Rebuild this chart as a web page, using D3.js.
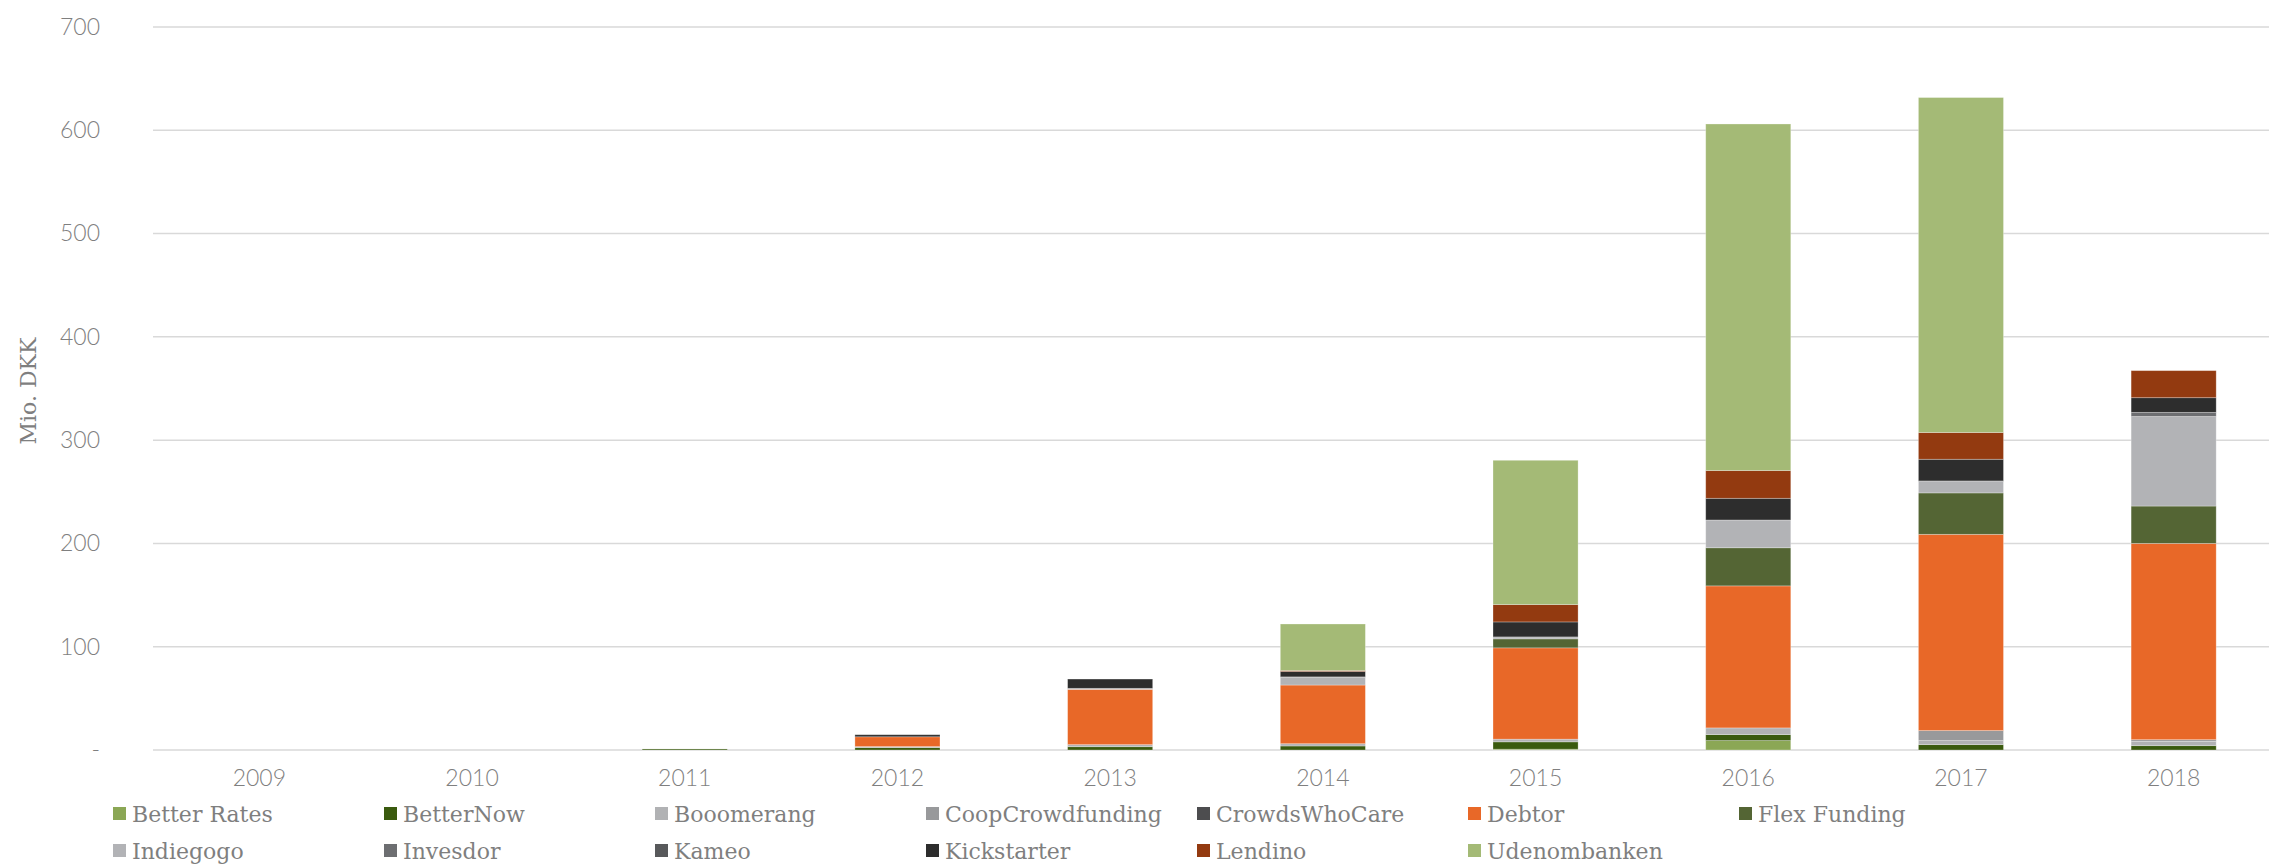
<!DOCTYPE html>
<html>
<head>
<meta charset="utf-8">
<script src="https://cdn.jsdelivr.net/npm/d3@7"></script>
<style>
  html, body { margin: 0; padding: 0; background: #fff; }
  svg { display: block; }
</style>
</head>
<body>
<svg id="chart" width="2269" height="864"></svg>
<script>
const years = ["2009","2010","2011","2012","2013","2014","2015","2016","2017","2018"];
const seriesNames = ["Better Rates","BetterNow","Booomerang","CoopCrowdfunding","CrowdsWhoCare","Debtor","Flex Funding","Indiegogo","Invesdor","Kameo","Kickstarter","Lendino","Udenombanken"];
const seriesColors = ["#8ba755","#3a5a0e","#b1b2b4","#98999b","#4d4d4f","#e86828","#546534","#b2b3b6","#6d6e71","#58595b","#2d2d2d","#933a10","#a4ba76"];

const betterRates      = [0, 0, 0,   0,   0,    0,    0.8,  9.1,   0,     0];
const betterNow        = [0, 0, 1.0, 2.3, 3.2,  3.9,  7.1,  5.8,   5.2,   4.2];
const booomerang       = [0, 0, 0,   1.0, 2.0,  2.2,  2.6,  6.5,   3.9,   4.2];
const coopCrowdfunding = [0, 0, 0,   0,   0,    0,    0,    0,     9.7,   1.6];
const crowdsWhoCare    = [0, 0, 0,   0,   0,    0,    0,    0,     0,     0];
const debtor           = [0, 0, 0,   9.5, 53.5, 56.8, 88.4, 137.5, 190,   190];
const flexFunding      = [0, 0, 0,   0,   0,    0,    8.7,  36.9,  40.1,  36.2];
const indiegogo        = [0, 0, 0,   0,   1.0,  7.4,  1.9,  26.9,  11,    86.7];
const invesdor         = [0, 0, 0,   0,   0,    0.5,  0,    0,     0.6,   4.0];
const kameo            = [0, 0, 0,   0,   0,    0,    0,    0,     0,     0];
const kickstarter      = [0, 0, 0,   2.0, 9.0,  5.2,  14.5, 21,    21,    14.2];
const lendino          = [0, 0, 0,   0,   0,    1.0,  16.8, 26.9,  25.9,  26.2];
const udenombanken     = [0, 0, 0,   0,   0,    45,   139.7,335.5, 324.3, 0];

const yTicks = [0, 100, 200, 300, 400, 500, 600, 700];
const yTickLabels = ["-", "100", "200", "300", "400", "500", "600", "700"];

const seriesValues = [betterRates, betterNow, booomerang, coopCrowdfunding, crowdsWhoCare, debtor,
  flexFunding, indiegogo, invesdor, kameo, kickstarter, lendino, udenombanken];

const rows = years.map((yr, i) => {
  const r = { year: yr };
  seriesNames.forEach((n, k) => r[n] = seriesValues[k][i]);
  return r;
});

const svg = d3.select("#chart");
const W = 2269;
const plotLeft = 153, plotRight = 2280, plotTop = 27, plotBottom = 750;

const x = d3.scaleBand().domain(years).range([plotLeft, plotRight]).paddingInner(0.6).paddingOuter(0.3);
const y = d3.scaleLinear().domain([0, 700]).range([plotBottom, plotTop]);

const textColor = "#7f7f7f";
const sansFont = "Lato, 'Open Sans', sans-serif";
const serifFont = "'DejaVu Serif', serif";

// gridlines
svg.append("g").selectAll("line").data(yTicks).join("line")
  .attr("x1", plotLeft).attr("x2", W)
  .attr("y1", d => y(d)).attr("y2", d => y(d))
  .attr("stroke", "#d9d9d9").attr("stroke-width", 1.5);

// y axis labels
const yAxis = d3.axisLeft(y).tickValues(yTicks).tickSize(0).tickPadding(0)
  .tickFormat((d, i) => yTickLabels[i]);
const gy = svg.append("g").attr("transform", "translate(100,0)").call(yAxis);
gy.select(".domain").remove();
gy.selectAll("text").attr("fill", textColor).style("font-family", sansFont)
  .style("font-size", "23px").style("font-weight", 300);

// y title
svg.append("text")
  .attr("transform", "translate(36,391) rotate(-90)")
  .attr("text-anchor", "middle")
  .attr("fill", textColor)
  .style("font-family", serifFont).style("font-size", "22px")
  .text("Mio. DKK");

// stacked bars
const stack = d3.stack().keys(seriesNames);
const stacked = stack(rows);
const color = d3.scaleOrdinal().domain(seriesNames).range(seriesColors);

svg.append("g").selectAll("g").data(stacked).join("g")
  .attr("fill", d => color(d.key))
  .selectAll("rect").data(d => d.filter(p => p[1] - p[0] > 0)).join("rect")
  .attr("x", d => x(d.data.year))
  .attr("width", x.bandwidth())
  .attr("y", d => y(d[1]))
  .attr("height", d => y(d[0]) - y(d[1]))
  .attr("stroke", "rgba(255,255,255,0.35)")
  .attr("stroke-width", 0.8);

// x axis labels
const xAxis = d3.axisBottom(x).tickSize(0).tickPadding(0);
const gx = svg.append("g").attr("transform", "translate(0,770)").call(xAxis);
gx.select(".domain").remove();
gx.selectAll("text").attr("fill", textColor).attr("dy", "0.71em").style("font-family", sansFont)
  .style("font-size", "23px").style("font-weight", 300);

// legend
const legendCols = [113, 384, 655, 926, 1197, 1468, 1739];
const legendRows = [814, 851];
const lg = svg.append("g").selectAll("g").data(seriesNames).join("g")
  .attr("transform", (d, i) => `translate(${legendCols[i % 7]},${legendRows[Math.floor(i / 7)]})`);
lg.append("rect").attr("x", 0).attr("y", -7).attr("width", 13).attr("height", 13)
  .attr("fill", d => color(d));
lg.append("text").attr("x", 19).attr("y", 0).attr("dy", "0.35em")
  .attr("fill", textColor).style("font-family", serifFont).style("font-size", "22px")
  .text(d => d);
</script>
</body>
</html>
